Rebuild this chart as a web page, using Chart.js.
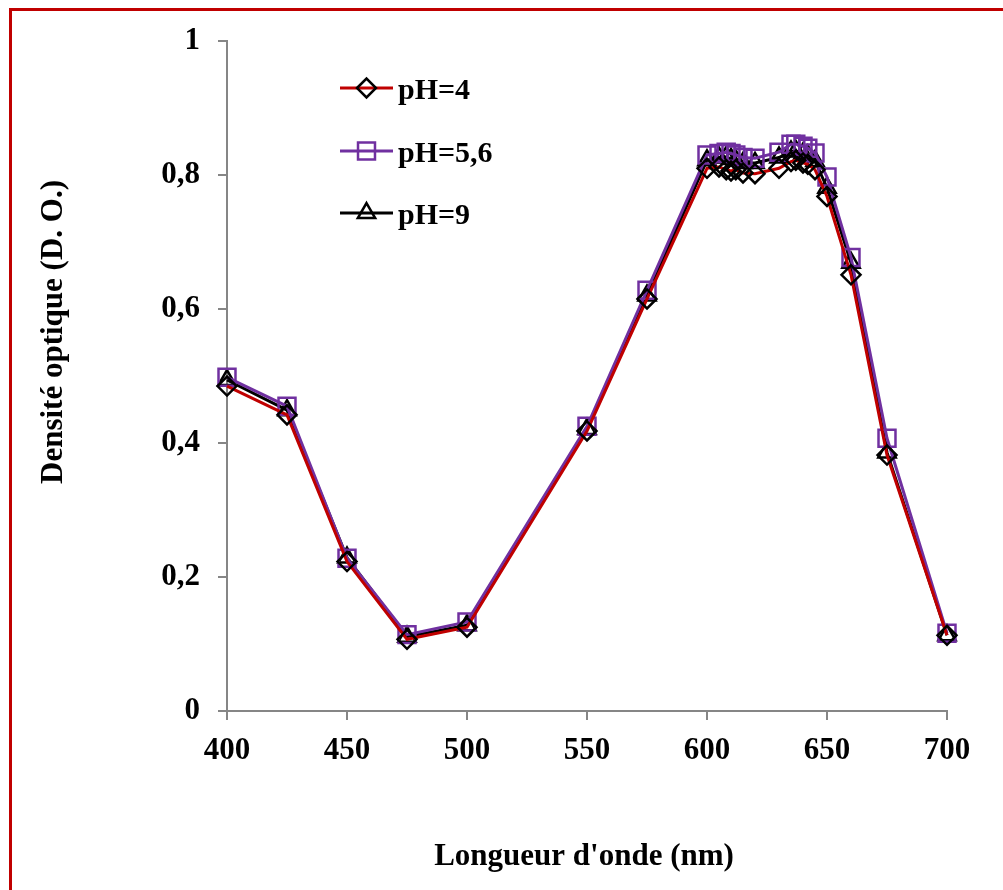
<!DOCTYPE html>
<html>
<head>
<meta charset="utf-8">
<script src="https://cdn.jsdelivr.net/npm/chart.js@4/dist/chart.umd.min.js"></script>
<style>
  html, body { margin: 0; padding: 0; background: #fff; overflow: hidden; }
  #frame { position: absolute; left: 9px; top: 8px; width: 1100px; height: 1000px; border: 3px solid #c00000; }
  #chart { position: absolute; left: 0; top: 0; }
</style>
</head>
<body>
<div id="frame"></div>
<canvas id="chart" width="1003" height="890"></canvas>
<script>
// wavelength (nm) and optical density for each pH
const wavelengths = [400, 425, 450, 475, 500, 550, 575, 600, 605, 608, 610, 612, 615, 620, 630, 635, 637, 640, 642, 645, 650, 660, 675, 700];
const odPH4  = [0.485, 0.442, 0.223, 0.107, 0.125, 0.418, 0.615, 0.810, 0.812, 0.808, 0.806, 0.808, 0.803, 0.802, 0.810, 0.820, 0.822, 0.818, 0.816, 0.808, 0.768, 0.651, 0.382, 0.113];
const odPH56 = [0.498, 0.455, 0.228, 0.114, 0.133, 0.425, 0.628, 0.830, 0.832, 0.834, 0.832, 0.830, 0.826, 0.825, 0.834, 0.846, 0.846, 0.843, 0.840, 0.833, 0.797, 0.677, 0.407, 0.116];
const odPH9  = [0.494, 0.449, 0.229, 0.111, 0.128, 0.421, 0.620, 0.822, 0.826, 0.827, 0.824, 0.822, 0.818, 0.818, 0.826, 0.835, 0.836, 0.832, 0.829, 0.821, 0.781, 0.669, 0.386, 0.113];
const seriesLabels = ['pH=4', 'pH=5,6', 'pH=9'];
const xTitle = "Longueur d'onde (nm)";
const yTitle = 'Densité optique (D. O.)';

const serif = "'Liberation Serif', 'Times New Roman', serif";
const axisGray = '#868686';

const toPoints = (ys) => ys.map((y, i) => ({ x: wavelengths[i], y: y }));

const styles = [
    { line: '#c00000', marker: '#000000', shape: 'rectRot', radius: 9.5 },
    { line: '#7030a0', marker: '#7030a0', shape: 'rect', radius: 12 },
    { line: '#000000', marker: '#000000', shape: 'triangle', radius: 10 }
];
const seriesData = [odPH4, odPH56, odPH9];

// Excel-like legend and axis titles
const decorPlugin = {
    id: 'decor',
    afterDraw(chart) {
        const c = chart.ctx;
        c.save();
        // legend
        const rows = [88, 151, 213];
        seriesLabels.forEach((label, i) => {
            const st = styles[i];
            const y = rows[i];
            c.strokeStyle = st.line;
            c.lineWidth = 3;
            c.beginPath();
            c.moveTo(340, y);
            c.lineTo(393, y);
            c.stroke();
            c.strokeStyle = st.marker;
            c.fillStyle = 'rgba(0,0,0,0)';
            c.lineWidth = 2.5;
            Chart.helpers.drawPoint(c, { pointStyle: st.shape, radius: st.radius, borderWidth: 2.5 }, 366.5, y);
            c.fillStyle = '#000';
            c.font = 'bold 30px ' + serif;
            c.textAlign = 'left';
            c.textBaseline = 'alphabetic';
            c.fillText(label, 398, y + 11);
        });
        // axis titles
        c.font = 'bold 31px ' + serif;
        c.fillStyle = '#000';
        c.textAlign = 'center';
        c.textBaseline = 'alphabetic';
        c.fillText(xTitle, 584, 865);
        c.translate(62, 332);
        c.rotate(-Math.PI / 2);
        c.fillText(yTitle, 0, 0);
        c.restore();
    }
};

new Chart(document.getElementById('chart'), {
    type: 'line',
    data: {
        datasets: seriesData.map((ys, i) => ({
            label: seriesLabels[i],
            data: toPoints(ys),
            borderColor: styles[i].line,
            borderWidth: 3,
            pointStyle: styles[i].shape,
            pointRadius: styles[i].radius,
            pointBorderColor: styles[i].marker,
            pointBorderWidth: 2.5,
            pointBackgroundColor: 'rgba(0,0,0,0)',
            tension: 0,
            fill: false,
            clip: false
        }))
    },
    options: {
        responsive: false,
        animation: false,
        layout: { padding: { left: 0, right: 56, top: 41, bottom: 0 } },
        plugins: { legend: { display: false }, tooltip: { enabled: false } },
        scales: {
            x: {
                type: 'linear',
                min: 400,
                max: 700,
                afterFit: (s) => { s.height = 179; },
                ticks: { stepSize: 50, color: '#000', padding: 12, font: { family: serif, size: 31, weight: 'bold' } },
                grid: { drawOnChartArea: false, tickLength: 9, color: axisGray, lineWidth: 2 },
                border: { color: axisGray, width: 2 }
            },
            y: {
                min: 0,
                max: 1,
                afterFit: (s) => { s.width = 227; },
                ticks: {
                    stepSize: 0.2,
                    color: '#000',
                    padding: 18,
                    font: { family: serif, size: 31, weight: 'bold' },
                    callback: (v) => String(Math.round(v * 10) / 10).replace('.', ',')
                },
                grid: { drawOnChartArea: false, tickLength: 9, color: axisGray, lineWidth: 2 },
                border: { color: axisGray, width: 2 }
            }
        }
    },
    plugins: [decorPlugin]
});
</script>
</body>
</html>
